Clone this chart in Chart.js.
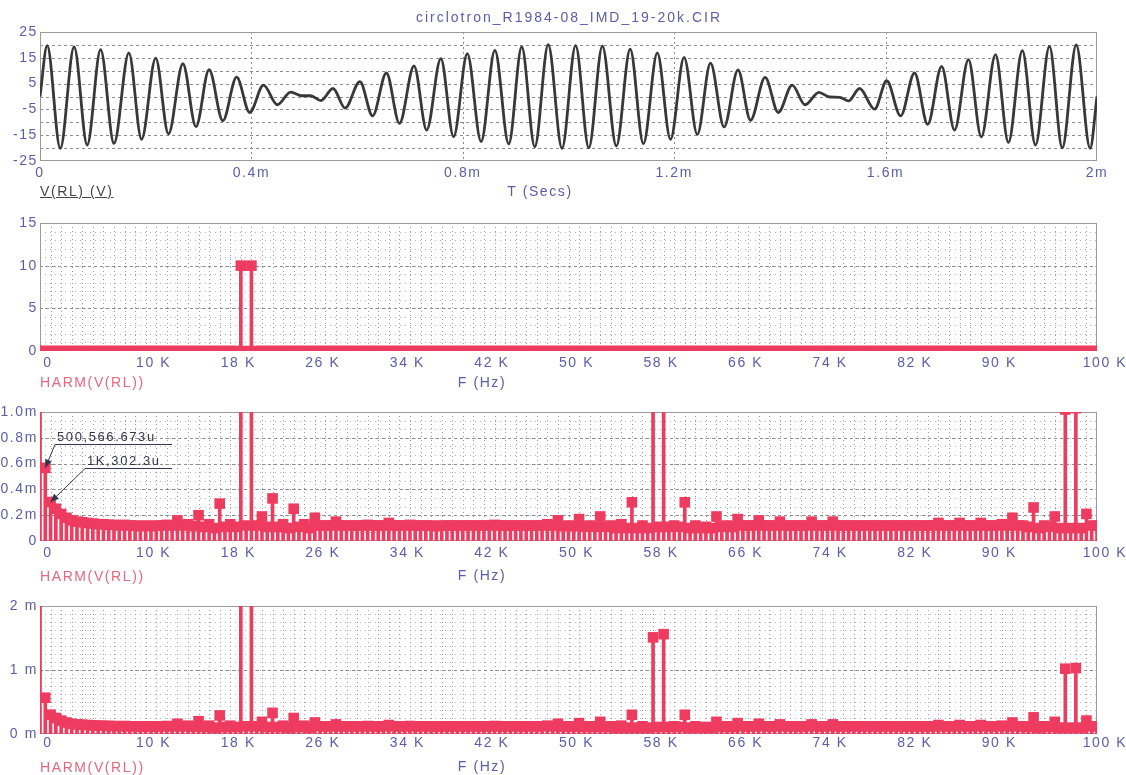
<!DOCTYPE html>
<html>
<head>
<meta charset="utf-8">
<script src="https://cdn.jsdelivr.net/npm/chart.js@4.4.1/dist/chart.umd.min.js"></script>
<style>
body { margin: 0; background: #fff; }
#wrap { position: relative; width: 1126px; height: 775px; overflow: hidden;
        font-family: "Liberation Sans", Arial, sans-serif; font-size: 14px; letter-spacing: 1.6px; }
canvas { position: absolute; left: 0; }
.lbl { position: absolute; white-space: nowrap; line-height: 14px; height: 14px; }
.blue { color: #5a5ea8; }
.red { color: #e8667e; }
.note { color: #34344e; border-bottom: 1px solid #34344e; padding-left: 2px; box-sizing: border-box; font-size: 13px; }
</style>
</head>
<body>
<div id="wrap">
  <canvas id="timeChart" width="1126" height="205" style="top:0"></canvas>
  <canvas id="harmChart" width="1126" height="195" style="top:205px"></canvas>
  <canvas id="harmZoom1" width="1126" height="195" style="top:400px"></canvas>
  <canvas id="harmZoom2" width="1126" height="180" style="top:595px"></canvas>

  <div class="lbl blue" style="left:0;width:1138px;text-align:center;top:10px;letter-spacing:2px">circlotron_R1984-08_IMD_19-20k.CIR</div>

  <div class="lbl" style="left:40px;top:184px;color:#444;text-decoration:underline">V(RL) (V)</div>
  <div class="lbl blue" style="left:440px;width:200px;text-align:center;top:184px">T (Secs)</div>

  <div class="lbl red" style="left:40px;top:375px">HARM(V(RL))</div>
  <div class="lbl blue" style="left:382px;width:200px;text-align:center;top:375px">F (Hz)</div>

  <div class="lbl red" style="left:40px;top:569px">HARM(V(RL))</div>
  <div class="lbl blue" style="left:382px;width:200px;text-align:center;top:568px">F (Hz)</div>

  <div class="lbl red" style="left:40px;top:760px">HARM(V(RL))</div>
  <div class="lbl blue" style="left:382px;width:200px;text-align:center;top:759px">F (Hz)</div>

  <div class="lbl note" style="left:55px;top:430px;width:117px;height:15px">500,566.673u</div>
  <div class="lbl note" style="left:85px;top:454px;width:87px;height:15px">1K,302.3u</div>
</div>

<script>
// ---------- V(RL) over time: peaks and troughs (ms, V)

const timeMs = [
    0, 0.0136, 0.0384, 0.0645, 0.0893, 0.1147, 0.1400, 0.1681, 0.1922, 0.2189,
    0.2430, 0.2704, 0.2951, 0.3199, 0.3459, 0.3720, 0.3968, 0.4229, 0.4489, 0.4743,
    0.4957, 0.5120, 0.5317, 0.5544, 0.5773, 0.6053, 0.6293, 0.6554, 0.6802, 0.7077,
    0.7317, 0.7584, 0.7826, 0.8085, 0.8346, 0.8607, 0.8869, 0.9115, 0.9362, 0.9616,
    0.9877, 1.0135, 1.0384, 1.0641, 1.0905, 1.1167, 1.1417, 1.1680, 1.1930, 1.2187,
    1.2437, 1.2687, 1.2944, 1.3207, 1.3444, 1.3720, 1.3970, 1.4233, 1.4475, 1.4738,
    1.4937, 1.5133, 1.5298, 1.5508, 1.5792, 1.6021, 1.6284, 1.6547, 1.6797, 1.7060,
    1.7304, 1.7567, 1.7811, 1.8080, 1.8324, 1.8587, 1.8836, 1.9100, 1.9343, 1.9607,
    1.9870, 2.0
];

const voltsRL = [
    0, 19.7, -20.1, 19.2, -18.8, 18.2, -18.2, 16.9, -16.6, 14.9,
    -14.5, 12.7, -11.7, 10.4, -9.4, 7.5, -6.2, 4.4, -3.2, 1.7,
    0.3, 0.3, -1.6, 3.1, -4.5, 5.8, -7.5, 9.1, -10.4, 11.9,
    -13.0, 14.7, -15.6, 16.6, -17.5, 17.9, -18.4, 19.2, -19.5, 20.1,
    -20.1, 19.7, -19.9, 19.5, -19.2, 18.4, -18.3, 16.9, -16.6, 15.2,
    -14.7, 12.9, -11.8, 10.3, -9.2, 7.4, -6.2, 4.4, -3.2, 1.6,
    -0.2, -0.3, -1.7, 3.1, -4.9, 6.1, -7.5, 9.1, -10.8, 11.7,
    -13.0, 14.3, -15.7, 16.2, -17.8, 17.8, -18.8, 19.4, -19.9, 20.0,
    -20.1, 0
];

const timeTicks = [0, 0.4, 0.8, 1.2, 1.6, 2];
const voltTicks = [-25, -15, -5, 5, 15, 25];

// ---------- HARM(V(RL)): one bin every 500 Hz, 0..100 kHz, in mV

const binStepHz = 500;

const harmMv = [
    3.0, 0.567, 0.302, 0.25, 0.21, 0.18, 0.16, 0.15, 0.145, 0.14, 0.135, 0.13, 0.13, 0.125, 0.125, 0.12, 0.125, 0.12, 0.12, 0.115,
    0.12, 0.115, 0.12, 0.12, 0.125, 0.12, 0.16, 0.12, 0.13, 0.115, 0.20, 0.11, 0.13, 0.10, 0.29, 0.11, 0.13, 0.11, 10000, 0.12,
    10000, 0.12, 0.19, 0.11, 0.33, 0.11, 0.13, 0.10, 0.25, 0.11, 0.13, 0.10, 0.18, 0.12, 0.12, 0.12, 0.15, 0.12, 0.12, 0.12,
    0.12, 0.12, 0.125, 0.12, 0.12, 0.12, 0.14, 0.12, 0.12, 0.12, 0.125, 0.12, 0.12, 0.12, 0.12, 0.115, 0.12, 0.12, 0.12, 0.12,
    0.12, 0.12, 0.12, 0.12, 0.12, 0.12, 0.125, 0.12, 0.12, 0.12, 0.12, 0.12, 0.12, 0.12, 0.12, 0.12, 0.13, 0.12, 0.16, 0.115,
    0.12, 0.115, 0.17, 0.11, 0.12, 0.11, 0.19, 0.11, 0.12, 0.10, 0.13, 0.10, 0.30, 0.10, 0.12, 0.10, 1.51, 0.11, 1.56, 0.11,
    0.12, 0.11, 0.30, 0.10, 0.12, 0.10, 0.11, 0.10, 0.19, 0.11, 0.12, 0.11, 0.17, 0.12, 0.12, 0.12, 0.16, 0.12, 0.12, 0.12,
    0.15, 0.12, 0.12, 0.12, 0.12, 0.12, 0.15, 0.12, 0.12, 0.12, 0.15, 0.12, 0.12, 0.12, 0.12, 0.12, 0.12, 0.12, 0.12, 0.12,
    0.12, 0.12, 0.12, 0.12, 0.12, 0.12, 0.12, 0.12, 0.12, 0.12, 0.14, 0.12, 0.12, 0.12, 0.14, 0.12, 0.12, 0.12, 0.14, 0.12,
    0.12, 0.12, 0.13, 0.12, 0.18, 0.12, 0.12, 0.11, 0.26, 0.10, 0.12, 0.11, 0.19, 0.10, 1.02, 0.10, 1.03, 0.10, 0.21, 0.12,
    0.12
];

const freqTicks = [0, 10000, 18000, 26000, 34000, 42000, 50000, 58000, 66000, 74000, 82000, 90000, 100000];
const harmVoltTicks = [0, 5, 10, 15];          // V
const zoomTicksA = [0, 0.2, 0.4, 0.6, 0.8, 1.0]; // mV
const zoomTicksB = [0, 1, 2];                    // mV


// ---------- shared bits

const TICK_FONT = { family: "'Liberation Sans', Arial, sans-serif", size: 14 };
const TICK_COLOR = "#5a5ea8";
const RED = "#ee3b60";

const spacing = {
    id: "spacing",
    beforeDraw(chart) { chart.ctx.letterSpacing = "1.6px"; }
};

function steps(from, to, step) {
    const out = [];
    for (let v = from; v <= to + step / 1000; v += step) out.push(v);
    return out;
}

// dotted / dashed plot grid like the simulator draws it
function makeGrid(spec) {
    return {
        id: "plotGrid",
        beforeDatasetsDraw(chart) {
            const { ctx, chartArea: a, scales: { x, y } } = chart;
            ctx.save();
            ctx.lineWidth = 1;
            const line = (list, axis, color, dash) => {
                ctx.strokeStyle = color;
                ctx.setLineDash(dash);
                list.forEach(v => {
                    ctx.beginPath();
                    if (axis === "x") {
                        const px = Math.round(x.getPixelForValue(v)) + 0.5;
                        ctx.moveTo(px, a.top); ctx.lineTo(px, a.bottom);
                    } else {
                        const py = Math.round(y.getPixelForValue(v)) + 0.5;
                        ctx.moveTo(a.left, py); ctx.lineTo(a.right, py);
                    }
                    ctx.stroke();
                });
            };
            line(spec.yMinor || [], "y", "#b4b4b4", [1, 4]);
            line(spec.xMinor || [], "x", "#999999", [1, 3]);
            line(spec.yMajor || [], "y", "#8c8c8c", [3, 3]);
            line(spec.xMajor || [], "x", "#8c8c8c", [2, 3]);
            ctx.setLineDash([]);
            ctx.strokeStyle = "#9a9a9a";
            ctx.strokeRect(a.left + 0.5, a.top + 0.5, a.right - a.left - 1, a.bottom - a.top - 1);
            ctx.restore();
        }
    };
}

function fixedTicks(list) {
    return scale => { scale.ticks = list.map(v => ({ value: v })); };
}


// ---------- V(RL) (line chart)

const timeChart = new Chart(document.getElementById("timeChart"), {
    type: "line",
    data: {
        datasets: [{
            data: timeMs.map((t, i) => ({ x: t, y: voltsRL[i] })),
            borderColor: "#383838",
            borderWidth: 2.8,
            pointRadius: 0,
            cubicInterpolationMode: "monotone"
        }]
    },
    options: {
        responsive: false,
        animation: false,
        layout: { padding: { top: 32, right: 29, left: 0, bottom: 0 } },
        plugins: { legend: { display: false }, tooltip: { enabled: false } },
        scales: {
            x: {
                type: "linear", min: 0, max: 2,
                grid: { display: false, drawTicks: false }, border: { display: false },
                afterBuildTicks: fixedTicks(timeTicks),
                afterFit: s => { s.height = 44; },
                ticks: {
                    font: TICK_FONT, color: TICK_COLOR, padding: 4, maxRotation: 0, autoSkip: false,
                    callback: v => v === 0 ? "0" : v + "m"
                }
            },
            y: {
                min: -25, max: 25,
                grid: { display: false, drawTicks: false }, border: { display: false },
                afterBuildTicks: fixedTicks(voltTicks),
                afterFit: s => { s.width = 40; },
                ticks: { font: TICK_FONT, color: TICK_COLOR, padding: 2, callback: v => String(v) }
            }
        }
    },
    plugins: [spacing, makeGrid({
        xMajor: [0.4, 0.8, 1.2, 1.6],
        yMajor: steps(-20, 20, 5)
    })]
});


// ---------- HARM(V(RL)) spectra (stems + square markers)

function harmChart(id, toUnit, yMax, yTicks, yLabel, yMinorStep, yMajor, padTop, axisH, labelPad, extra) {
    const pts = harmMv.map((v, i) => ({ x: i * binStepHz, y: toUnit(v) }));
    return new Chart(document.getElementById(id), {
        type: "bar",
        data: {
            datasets: [{
                type: "bar",
                data: pts,
                backgroundColor: RED,
                barThickness: 3,
                clip: 0
            }, {
                type: "scatter",
                data: pts,
                pointStyle: "rect",
                pointRadius: 7.5,
                pointBorderWidth: 0,
                backgroundColor: RED,
                clip: 0
            }]
        },
        options: {
            responsive: false,
            animation: false,
            layout: { padding: { top: padTop, right: 29, left: 0, bottom: 0 } },
            plugins: { legend: { display: false }, tooltip: { enabled: false } },
            scales: {
                x: {
                    type: "linear", min: 0, max: 100000, offset: false,
                    grid: { display: false, drawTicks: false }, border: { display: false },
                    afterBuildTicks: fixedTicks(freqTicks),
                    afterFit: s => { s.height = axisH; },
                    ticks: {
                        font: TICK_FONT, color: TICK_COLOR, padding: labelPad, maxRotation: 0, autoSkip: false,
                        labelOffset: 8,
                        callback: v => v === 0 ? "0" : (v / 1000) + " K"
                    }
                },
                y: {
                    min: 0, max: yMax,
                    grid: { display: false, drawTicks: false }, border: { display: false },
                    afterBuildTicks: fixedTicks(yTicks),
                    afterFit: s => { s.width = 40; },
                    ticks: { font: TICK_FONT, color: TICK_COLOR, padding: 2, callback: yLabel }
                }
            }
        },
        plugins: [spacing, makeGrid({
            xMinor: steps(1000, 99000, 1000),
            yMinor: steps(yMinorStep, yMax - yMinorStep / 2, yMinorStep),
            yMajor: yMajor
        })].concat(extra || [])
    });
}

// arrows from the two cursor notes down to the 500 Hz and 1 kHz bins
const callouts = {
    id: "callouts",
    afterDatasetsDraw(chart) {
        const { ctx, scales: { x, y } } = chart;
        const notes = [[1, 55, 44.5], [2, 85, 68.5]];
        ctx.save();
        ctx.strokeStyle = "#34344e";
        ctx.fillStyle = "#34344e";
        ctx.lineWidth = 1;
        notes.forEach(([bin, sx, sy]) => {
            const tx = x.getPixelForValue(bin * binStepHz);
            const ty = y.getPixelForValue(harmMv[bin]);
            const ang = Math.atan2(ty - sy, tx - sx);
            ctx.beginPath();
            ctx.moveTo(sx, sy);
            ctx.lineTo(tx, ty);
            ctx.stroke();
            ctx.beginPath();
            ctx.moveTo(tx, ty);
            ctx.lineTo(tx - 9 * Math.cos(ang - 0.4), ty - 9 * Math.sin(ang - 0.4));
            ctx.lineTo(tx - 9 * Math.cos(ang + 0.4), ty - 9 * Math.sin(ang + 0.4));
            ctx.closePath();
            ctx.fill();
        });
        ctx.restore();
    }
};

const harmFull = harmChart("harmChart", v => v / 1000, 15, harmVoltTicks,
    v => String(v), 1, [5, 10], 18, 49, 4);

const harmZoomA = harmChart("harmZoom1", v => v, 1.0, zoomTicksA,
    v => v === 0 ? "0" : v.toFixed(1) + "m", 1 / 15, [0.2, 0.4, 0.6, 0.8], 12, 54, 4, [callouts]);

const harmZoomB = harmChart("harmZoom2", v => v, 2, zoomTicksB,
    v => v + " m", 0.125, [1], 11, 41, 1);
</script>
</body>
</html>
